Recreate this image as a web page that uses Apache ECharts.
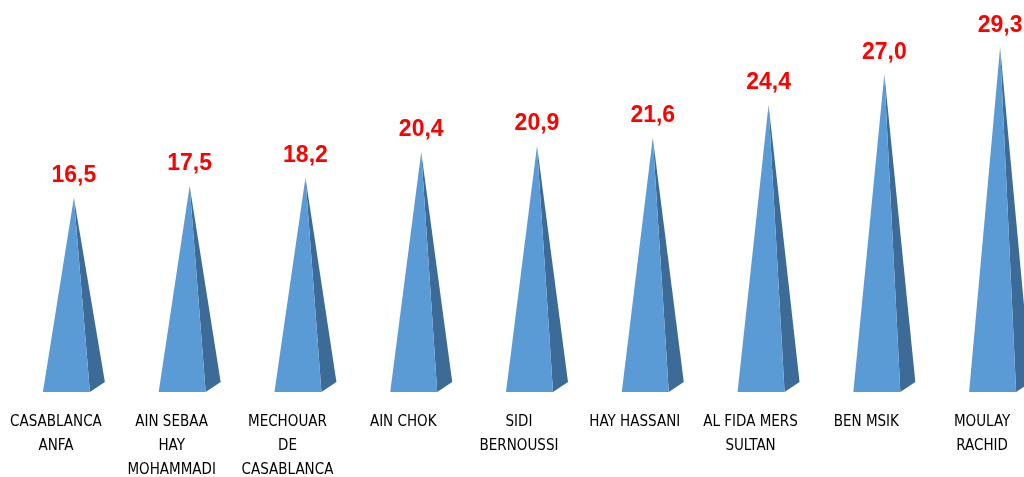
<!DOCTYPE html>
<html>
<head>
<meta charset="utf-8">
<script src="https://cdn.jsdelivr.net/npm/echarts@6/dist/echarts.min.js"></script>
<style>
html,body{margin:0;padding:0;background:#fff;}
#chart{width:1024px;height:477px;}
</style>
</head>
<body>
<div id="chart"></div>
<script>
const categories = [
  'CASABLANCA\nANFA',
  'AIN SEBAA\nHAY\nMOHAMMADI',
  'MECHOUAR\nDE\nCASABLANCA',
  'AIN CHOK',
  'SIDI\nBERNOUSSI',
  'HAY HASSANI',
  'AL FIDA MERS\nSULTAN',
  'BEN MSIK',
  'MOULAY\nRACHID'
];
const values = [16.5, 17.5, 18.2, 20.4, 20.9, 21.6, 24.4, 27.0, 29.3];

const chart = echarts.init(document.getElementById('chart'));

function renderPyramid(params, api) {
  const idx = api.value(0);
  const val = api.value(1);
  const top = api.coord([idx, val]);
  const base = api.coord([idx, 0]);
  const ax = top[0] + 18;
  const ay = top[1];
  const by = base[1];
  const left = ax - 31, frontRight = ax + 16, sideRight = ax + 31, sideY = by - 10;
  return {
    type: 'group',
    children: [
      {
        type: 'polygon',
        shape: { points: [[frontRight, by], [sideRight, sideY], [ax, ay]] },
        style: { fill: '#3d6b97' }
      },
      {
        type: 'polygon',
        shape: { points: [[left, by], [frontRight, by], [ax, ay]] },
        style: { fill: '#5b9bd5' }
      },
      {
        type: 'text',
        x: ax,
        y: ay - 22,
        style: {
          text: val.toFixed(1).replace('.', ','),
          fill: '#ff0000',
          font: 'bold 23px "Liberation Sans", Arial, sans-serif',
          align: 'center',
          verticalAlign: 'middle'
        }
      }
    ]
  };
}

chart.setOption({
  animation: false,
  backgroundColor: '#ffffff',
  grid: { left: -2, right: -16, top: 39, bottom: 85, containLabel: false, outerBoundsMode: 'none' },
  xAxis: {
    type: 'category',
    data: categories,
    axisLine: { show: false },
    axisTick: { show: false },
    axisLabel: {
      interval: 0,
      margin: 18,
      color: '#000',
      fontFamily: '"DejaVu Sans Condensed", "DejaVu Sans", sans-serif',
      fontSize: 15,
      lineHeight: 24,
      align: 'center',
      verticalAlign: 'top'
    }
  },
  yAxis: {
    type: 'value',
    min: 0,
    max: 30,
    show: false,
    splitLine: { show: false }
  },
  series: [{
    type: 'custom',
    renderItem: renderPyramid,
    data: values.map((v, i) => [i, v]),
    clip: false
  }]
});
</script>
</body>
</html>
